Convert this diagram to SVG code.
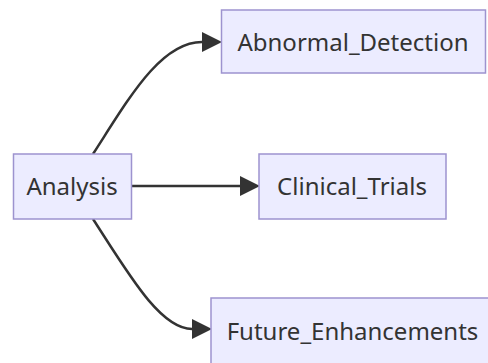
<svg xmlns="http://www.w3.org/2000/svg" width="488" height="363" viewBox="0 0 488 363">
<defs>
<style>
.node rect{fill:#ECECFF;stroke:#9d93cf;stroke-width:1.5}
.node text{font-family:"Noto Sans","Open Sans","DejaVu Sans",sans-serif;font-size:24px;fill:#333333;text-anchor:middle}
.edge{fill:none;stroke:#333333;stroke-width:2.5}
</style>
<marker id="arrow" viewBox="0 0 10 10" refX="0" refY="5" markerWidth="20" markerHeight="20" markerUnits="userSpaceOnUse" orient="auto">
<path d="M0,0 L10,5 L0,10 z" fill="#333333"/>
</marker>
</defs>
<rect width="488" height="363" fill="#ffffff"/>
<g id="connectors">
<path class="edge" d="M93,154 C128,100 160,42 202,42" marker-end="url(#arrow)"/>
<path class="edge" d="M131,186 L240,186" marker-end="url(#arrow)"/>
<path class="edge" d="M93,219 C128,273 160,329 192,329" marker-end="url(#arrow)"/>
</g>
<g id="Analysis" class="node">
<rect x="13.5" y="154" width="118" height="65"/>
<text x="72" y="194.5">Analysis</text>
</g>
<g id="Abnormal_Detection" class="node">
<rect x="221.5" y="10" width="264" height="63"/>
<text x="353" y="50.5">Abnormal_Detection</text>
</g>
<g id="Clinical_Trials" class="node">
<rect x="259" y="154" width="187" height="65"/>
<text x="352" y="194.5">Clinical_Trials</text>
</g>
<g id="Future_Enhancements" class="node">
<rect x="211" y="298" width="284" height="66"/>
<text x="352.5" y="340">Future_Enhancements</text>
</g>
</svg>
